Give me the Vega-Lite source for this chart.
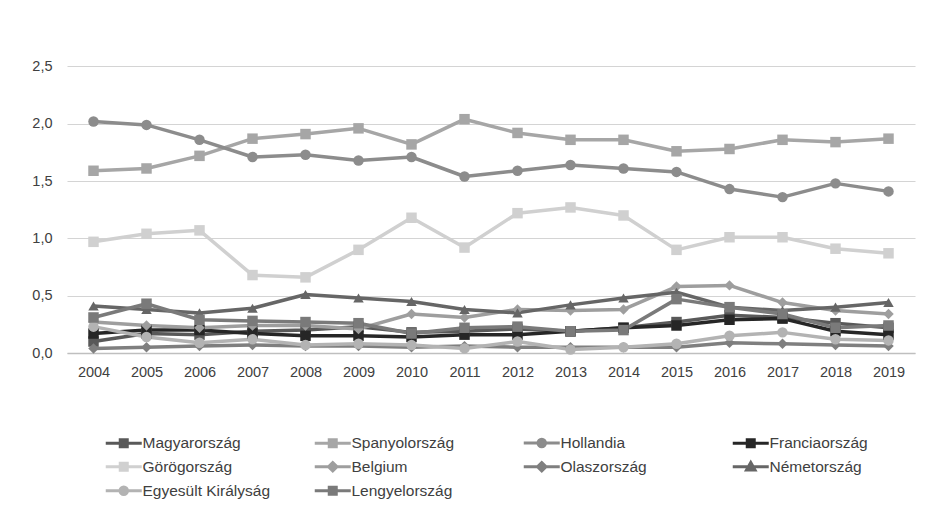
{
  "$schema": "https://vega.github.io/schema/vega-lite/v6.json",
  "autosize": {"type": "none"},
  "width": 848,
  "height": 298,
  "padding": {"left": 67, "top": 55, "right": 16, "bottom": 179},
  "background": "white",
  "config": {
    "view": {"stroke": null},
    "font": "Liberation Sans",
    "axis": {"labelFont": "Liberation Sans", "labelFontSize": 14.5, "labelColor": "#404040", "ticks": false, "title": null},
    "legend": {
      "orient": "none", "legendX": 49, "legendY": 380, "columns": 4, "direction": "horizontal",
      "gridAlign": "all", "columnPadding": 37, "rowPadding": 3, "symbolSize": 100, "symbolStrokeWidth": 3,
      "labelOffset": 11, "labelFontSize": 15.5, "labelFont": "Liberation Sans", "labelColor": "#404040",
      "padding": 0, "symbolFillColor": "#888888", "symbolStrokeColor": "#888888", "labelLimit": 300
    }
  },
  "data": {"values": [
    {"country": "Magyarország", "year": 2004, "value": 0.10},
    {"country": "Magyarország", "year": 2005, "value": 0.17},
    {"country": "Magyarország", "year": 2006, "value": 0.16},
    {"country": "Magyarország", "year": 2007, "value": 0.19},
    {"country": "Magyarország", "year": 2008, "value": 0.20},
    {"country": "Magyarország", "year": 2009, "value": 0.23},
    {"country": "Magyarország", "year": 2010, "value": 0.18},
    {"country": "Magyarország", "year": 2011, "value": 0.19},
    {"country": "Magyarország", "year": 2012, "value": 0.21},
    {"country": "Magyarország", "year": 2013, "value": 0.19},
    {"country": "Magyarország", "year": 2014, "value": 0.22},
    {"country": "Magyarország", "year": 2015, "value": 0.27},
    {"country": "Magyarország", "year": 2016, "value": 0.33},
    {"country": "Magyarország", "year": 2017, "value": 0.31},
    {"country": "Magyarország", "year": 2018, "value": 0.26},
    {"country": "Magyarország", "year": 2019, "value": 0.22},
    {"country": "Spanyolország", "year": 2004, "value": 1.59},
    {"country": "Spanyolország", "year": 2005, "value": 1.61},
    {"country": "Spanyolország", "year": 2006, "value": 1.72},
    {"country": "Spanyolország", "year": 2007, "value": 1.87},
    {"country": "Spanyolország", "year": 2008, "value": 1.91},
    {"country": "Spanyolország", "year": 2009, "value": 1.96},
    {"country": "Spanyolország", "year": 2010, "value": 1.82},
    {"country": "Spanyolország", "year": 2011, "value": 2.04},
    {"country": "Spanyolország", "year": 2012, "value": 1.92},
    {"country": "Spanyolország", "year": 2013, "value": 1.86},
    {"country": "Spanyolország", "year": 2014, "value": 1.86},
    {"country": "Spanyolország", "year": 2015, "value": 1.76},
    {"country": "Spanyolország", "year": 2016, "value": 1.78},
    {"country": "Spanyolország", "year": 2017, "value": 1.86},
    {"country": "Spanyolország", "year": 2018, "value": 1.84},
    {"country": "Spanyolország", "year": 2019, "value": 1.87},
    {"country": "Hollandia", "year": 2004, "value": 2.02},
    {"country": "Hollandia", "year": 2005, "value": 1.99},
    {"country": "Hollandia", "year": 2006, "value": 1.86},
    {"country": "Hollandia", "year": 2007, "value": 1.71},
    {"country": "Hollandia", "year": 2008, "value": 1.73},
    {"country": "Hollandia", "year": 2009, "value": 1.68},
    {"country": "Hollandia", "year": 2010, "value": 1.71},
    {"country": "Hollandia", "year": 2011, "value": 1.54},
    {"country": "Hollandia", "year": 2012, "value": 1.59},
    {"country": "Hollandia", "year": 2013, "value": 1.64},
    {"country": "Hollandia", "year": 2014, "value": 1.61},
    {"country": "Hollandia", "year": 2015, "value": 1.58},
    {"country": "Hollandia", "year": 2016, "value": 1.43},
    {"country": "Hollandia", "year": 2017, "value": 1.36},
    {"country": "Hollandia", "year": 2018, "value": 1.48},
    {"country": "Hollandia", "year": 2019, "value": 1.41},
    {"country": "Franciaország", "year": 2004, "value": 0.17},
    {"country": "Franciaország", "year": 2005, "value": 0.20},
    {"country": "Franciaország", "year": 2006, "value": 0.20},
    {"country": "Franciaország", "year": 2007, "value": 0.17},
    {"country": "Franciaország", "year": 2008, "value": 0.15},
    {"country": "Franciaország", "year": 2009, "value": 0.15},
    {"country": "Franciaország", "year": 2010, "value": 0.14},
    {"country": "Franciaország", "year": 2011, "value": 0.16},
    {"country": "Franciaország", "year": 2012, "value": 0.16},
    {"country": "Franciaország", "year": 2013, "value": 0.19},
    {"country": "Franciaország", "year": 2014, "value": 0.22},
    {"country": "Franciaország", "year": 2015, "value": 0.24},
    {"country": "Franciaország", "year": 2016, "value": 0.29},
    {"country": "Franciaország", "year": 2017, "value": 0.30},
    {"country": "Franciaország", "year": 2018, "value": 0.19},
    {"country": "Franciaország", "year": 2019, "value": 0.16},
    {"country": "Görögország", "year": 2004, "value": 0.97},
    {"country": "Görögország", "year": 2005, "value": 1.04},
    {"country": "Görögország", "year": 2006, "value": 1.07},
    {"country": "Görögország", "year": 2007, "value": 0.68},
    {"country": "Görögország", "year": 2008, "value": 0.66},
    {"country": "Görögország", "year": 2009, "value": 0.90},
    {"country": "Görögország", "year": 2010, "value": 1.18},
    {"country": "Görögország", "year": 2011, "value": 0.92},
    {"country": "Görögország", "year": 2012, "value": 1.22},
    {"country": "Görögország", "year": 2013, "value": 1.27},
    {"country": "Görögország", "year": 2014, "value": 1.20},
    {"country": "Görögország", "year": 2015, "value": 0.90},
    {"country": "Görögország", "year": 2016, "value": 1.01},
    {"country": "Görögország", "year": 2017, "value": 1.01},
    {"country": "Görögország", "year": 2018, "value": 0.91},
    {"country": "Görögország", "year": 2019, "value": 0.87},
    {"country": "Belgium", "year": 2004, "value": 0.27},
    {"country": "Belgium", "year": 2005, "value": 0.24},
    {"country": "Belgium", "year": 2006, "value": 0.22},
    {"country": "Belgium", "year": 2007, "value": 0.24},
    {"country": "Belgium", "year": 2008, "value": 0.24},
    {"country": "Belgium", "year": 2009, "value": 0.21},
    {"country": "Belgium", "year": 2010, "value": 0.34},
    {"country": "Belgium", "year": 2011, "value": 0.31},
    {"country": "Belgium", "year": 2012, "value": 0.38},
    {"country": "Belgium", "year": 2013, "value": 0.37},
    {"country": "Belgium", "year": 2014, "value": 0.38},
    {"country": "Belgium", "year": 2015, "value": 0.58},
    {"country": "Belgium", "year": 2016, "value": 0.59},
    {"country": "Belgium", "year": 2017, "value": 0.44},
    {"country": "Belgium", "year": 2018, "value": 0.37},
    {"country": "Belgium", "year": 2019, "value": 0.34},
    {"country": "Olaszország", "year": 2004, "value": 0.04},
    {"country": "Olaszország", "year": 2005, "value": 0.05},
    {"country": "Olaszország", "year": 2006, "value": 0.06},
    {"country": "Olaszország", "year": 2007, "value": 0.07},
    {"country": "Olaszország", "year": 2008, "value": 0.06},
    {"country": "Olaszország", "year": 2009, "value": 0.06},
    {"country": "Olaszország", "year": 2010, "value": 0.05},
    {"country": "Olaszország", "year": 2011, "value": 0.06},
    {"country": "Olaszország", "year": 2012, "value": 0.05},
    {"country": "Olaszország", "year": 2013, "value": 0.05},
    {"country": "Olaszország", "year": 2014, "value": 0.05},
    {"country": "Olaszország", "year": 2015, "value": 0.05},
    {"country": "Olaszország", "year": 2016, "value": 0.09},
    {"country": "Olaszország", "year": 2017, "value": 0.08},
    {"country": "Olaszország", "year": 2018, "value": 0.07},
    {"country": "Olaszország", "year": 2019, "value": 0.06},
    {"country": "Németország", "year": 2004, "value": 0.41},
    {"country": "Németország", "year": 2005, "value": 0.38},
    {"country": "Németország", "year": 2006, "value": 0.35},
    {"country": "Németország", "year": 2007, "value": 0.39},
    {"country": "Németország", "year": 2008, "value": 0.51},
    {"country": "Németország", "year": 2009, "value": 0.48},
    {"country": "Németország", "year": 2010, "value": 0.45},
    {"country": "Németország", "year": 2011, "value": 0.38},
    {"country": "Németország", "year": 2012, "value": 0.35},
    {"country": "Németország", "year": 2013, "value": 0.42},
    {"country": "Németország", "year": 2014, "value": 0.48},
    {"country": "Németország", "year": 2015, "value": 0.53},
    {"country": "Németország", "year": 2016, "value": 0.40},
    {"country": "Németország", "year": 2017, "value": 0.37},
    {"country": "Németország", "year": 2018, "value": 0.40},
    {"country": "Németország", "year": 2019, "value": 0.44},
    {"country": "Egyesült Királyság", "year": 2004, "value": 0.23},
    {"country": "Egyesült Királyság", "year": 2005, "value": 0.14},
    {"country": "Egyesült Királyság", "year": 2006, "value": 0.09},
    {"country": "Egyesült Királyság", "year": 2007, "value": 0.12},
    {"country": "Egyesült Királyság", "year": 2008, "value": 0.07},
    {"country": "Egyesült Királyság", "year": 2009, "value": 0.08},
    {"country": "Egyesült Királyság", "year": 2010, "value": 0.07},
    {"country": "Egyesült Királyság", "year": 2011, "value": 0.04},
    {"country": "Egyesült Királyság", "year": 2012, "value": 0.10},
    {"country": "Egyesült Királyság", "year": 2013, "value": 0.03},
    {"country": "Egyesült Királyság", "year": 2014, "value": 0.05},
    {"country": "Egyesült Királyság", "year": 2015, "value": 0.08},
    {"country": "Egyesült Királyság", "year": 2016, "value": 0.15},
    {"country": "Egyesült Királyság", "year": 2017, "value": 0.18},
    {"country": "Egyesült Királyság", "year": 2018, "value": 0.12},
    {"country": "Egyesült Királyság", "year": 2019, "value": 0.11},
    {"country": "Lengyelország", "year": 2004, "value": 0.31},
    {"country": "Lengyelország", "year": 2005, "value": 0.43},
    {"country": "Lengyelország", "year": 2006, "value": 0.29},
    {"country": "Lengyelország", "year": 2007, "value": 0.28},
    {"country": "Lengyelország", "year": 2008, "value": 0.27},
    {"country": "Lengyelország", "year": 2009, "value": 0.26},
    {"country": "Lengyelország", "year": 2010, "value": 0.17},
    {"country": "Lengyelország", "year": 2011, "value": 0.22},
    {"country": "Lengyelország", "year": 2012, "value": 0.23},
    {"country": "Lengyelország", "year": 2013, "value": 0.19},
    {"country": "Lengyelország", "year": 2014, "value": 0.20},
    {"country": "Lengyelország", "year": 2015, "value": 0.47},
    {"country": "Lengyelország", "year": 2016, "value": 0.40},
    {"country": "Lengyelország", "year": 2017, "value": 0.34},
    {"country": "Lengyelország", "year": 2018, "value": 0.22},
    {"country": "Lengyelország", "year": 2019, "value": 0.24}
  ]},
  "resolve": {"scale": {"shape": "independent", "fill": "independent", "stroke": "independent", "color": "independent"}},
  "layer": [
    {
      "mark": {"type": "line", "strokeWidth": 3.5, "strokeJoin": "round"},
      "encoding": {
        "x": {"field": "year", "type": "ordinal", "scale": {"type": "point", "padding": 0.5},
              "axis": {"labelAngle": 0, "labelPadding": 12, "domain": true, "domainColor": "#bfbfbf", "domainWidth": 1.5, "grid": false}},
        "y": {"field": "value", "type": "quantitative", "scale": {"domain": [0, 2.5]},
              "axis": {"values": [0, 0.5, 1, 1.5, 2, 2.5], "labelExpr": "replace(format(datum.value, '.1f'), '.', ',')", "labelPadding": 15, "domain": false, "gridColor": "#d4d4d4", "gridWidth": 1.2}},
        "color": {"field": "country", "type": "nominal", "legend": null,
                  "scale": {"domain": ["Magyarország", "Spanyolország", "Hollandia", "Franciaország", "Görögország", "Belgium", "Olaszország", "Németország", "Egyesült Királyság", "Lengyelország"],
                            "range": ["#595959", "#a6a6a6", "#8c8c8c", "#262626", "#d0d0d0", "#9e9e9e", "#7f7f7f", "#666666", "#b3b3b3", "#7a7a7a"]}}
      }
    },
    {
      "mark": {"type": "point", "filled": true, "size": 110, "opacity": 1},
      "encoding": {
        "x": {"field": "year", "type": "ordinal"},
        "y": {"field": "value", "type": "quantitative"},
        "color": {"field": "country", "type": "nominal", "legend": null,
                  "scale": {"domain": ["Magyarország", "Spanyolország", "Hollandia", "Franciaország", "Görögország", "Belgium", "Olaszország", "Németország", "Egyesült Királyság", "Lengyelország"],
                            "range": ["#595959", "#a6a6a6", "#8c8c8c", "#262626", "#d0d0d0", "#9e9e9e", "#7f7f7f", "#666666", "#b3b3b3", "#7a7a7a"]}},
        "shape": {"field": "country", "type": "nominal", "legend": null,
                  "scale": {"domain": ["Magyarország", "Spanyolország", "Hollandia", "Franciaország", "Görögország", "Belgium", "Olaszország", "Németország", "Egyesült Királyság", "Lengyelország"],
                            "range": ["square", "square", "circle", "square", "square", "diamond", "diamond", "triangle-up", "circle", "square"]}}
      }
    },
    {
      "transform": [{"filter": "datum.year < 0"}],
      "mark": {"type": "point", "filled": true, "strokeWidth": 3, "opacity": 1},
      "encoding": {
        "x": {"field": "year", "type": "ordinal"},
        "y": {"field": "value", "type": "quantitative"},
        "fill": {"field": "country", "type": "nominal", "legend": {"title": null},
                 "scale": {"domain": ["Magyarország", "Spanyolország", "Hollandia", "Franciaország", "Görögország", "Belgium", "Olaszország", "Németország", "Egyesült Királyság", "Lengyelország"],
                           "range": ["#595959", "#a6a6a6", "#8c8c8c", "#262626", "#d0d0d0", "#9e9e9e", "#7f7f7f", "#666666", "#b3b3b3", "#7a7a7a"]}},
        "stroke": {"field": "country", "type": "nominal", "legend": {"title": null},
                   "scale": {"domain": ["Magyarország", "Spanyolország", "Hollandia", "Franciaország", "Görögország", "Belgium", "Olaszország", "Németország", "Egyesült Királyság", "Lengyelország"],
                             "range": ["#595959", "#a6a6a6", "#8c8c8c", "#262626", "#d0d0d0", "#9e9e9e", "#7f7f7f", "#666666", "#b3b3b3", "#7a7a7a"]}},
        "shape": {"field": "country", "type": "nominal", "legend": {"title": null},
                  "scale": {"domain": ["Magyarország", "Spanyolország", "Hollandia", "Franciaország", "Görögország", "Belgium", "Olaszország", "Németország", "Egyesült Királyság", "Lengyelország"],
                            "range": [
                              "M-3.6,0H3.6M-0.7,-0.7H0.7V0.7H-0.7Z",
                              "M-3.6,0H3.6M-0.7,-0.7H0.7V0.7H-0.7Z",
                              "M-3.6,0H3.6M-0.75,0A0.75,0.75,0,1,0,0.75,0A0.75,0.75,0,1,0,-0.75,0Z",
                              "M-3.6,0H3.6M-0.7,-0.7H0.7V0.7H-0.7Z",
                              "M-3.6,0H3.6M-0.7,-0.7H0.7V0.7H-0.7Z",
                              "M-3.6,0H3.6M0,-0.85L0.85,0L0,0.85L-0.85,0Z",
                              "M-3.6,0H3.6M0,-0.85L0.85,0L0,0.85L-0.85,0Z",
                              "M-3.6,0H3.6M0,-0.85L0.85,0.65H-0.85Z",
                              "M-3.6,0H3.6M-0.75,0A0.75,0.75,0,1,0,0.75,0A0.75,0.75,0,1,0,-0.75,0Z",
                              "M-3.6,0H3.6M-0.7,-0.7H0.7V0.7H-0.7Z"
                            ]}}
      }
    }
  ]
}
